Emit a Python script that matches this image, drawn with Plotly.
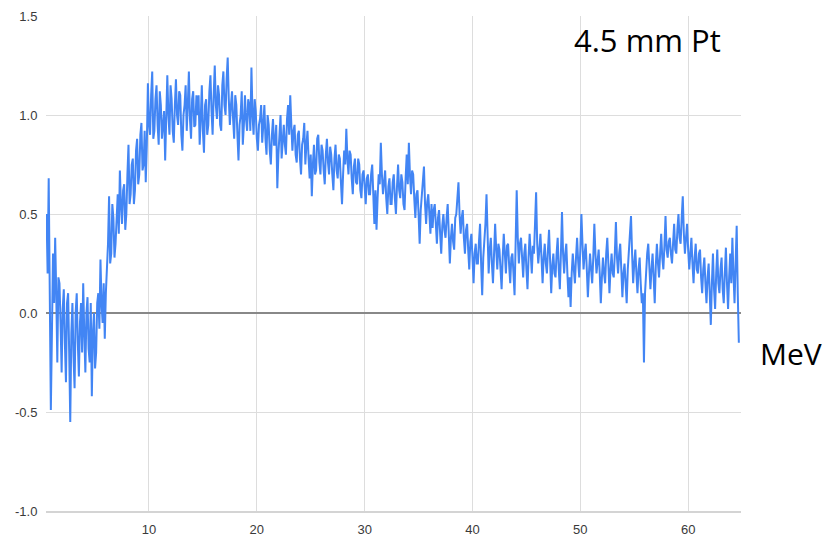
import numpy as np
import plotly.graph_objects as go

# Energy grid (MeV) of the sampled spectrum
E_START = 0.5
E_STEP = 0.1

# Signal values, one row per 2 MeV
signal = [
    0.50, 0.20, 0.68, 0.10, -0.49, -0.10, 0.30, 0.05, 0.38, 0.10, -0.25, 0.18, 0.15, -0.05, -0.30, 0.02, 0.12, -0.15, -0.35, 0.05,
    0.10, -0.20, -0.55, -0.10, 0.05, -0.22, -0.38, 0.00, 0.10, -0.15, -0.32, -0.05, 0.05, -0.20, 0.15, -0.10, -0.30, 0.00, 0.08, -0.18,
    -0.25, 0.05, -0.42, -0.10, 0.00, -0.28, -0.20, 0.05, 0.10, -0.08, 0.27, 0.05, -0.05, 0.15, -0.13, 0.10, 0.20, 0.35, 0.59, 0.25,
    0.30, 0.55, 0.48, 0.28, 0.35, 0.52, 0.60, 0.40, 0.72, 0.55, 0.45, 0.62, 0.65, 0.42, 0.50, 0.70, 0.85, 0.55, 0.60, 0.75,
    0.78, 0.55, 0.62, 0.82, 0.88, 0.65, 0.70, 0.90, 0.96, 0.72, 0.75, 0.92, 0.66, 0.85, 1.16, 0.95, 0.90, 1.10, 1.22, 0.88,
    0.92, 1.08, 1.15, 0.95, 0.85, 1.12, 1.05, 0.88, 0.95, 1.02, 0.77, 0.98, 1.20, 1.00, 0.90, 1.15, 1.08, 0.92, 0.86, 1.05,
    1.18, 1.00, 0.95, 1.12, 1.10, 0.90, 0.82, 1.00, 1.05, 1.15, 0.92, 1.05, 1.22, 0.98, 0.88, 1.08, 1.12, 0.94, 0.95, 1.10,
    1.00, 1.10, 0.85, 0.98, 1.15, 0.92, 0.81, 1.05, 1.08, 0.90, 0.95, 1.12, 1.20, 1.02, 0.90, 1.10, 1.25, 1.05, 0.98, 1.15,
    1.10, 0.95, 0.92, 1.15, 1.22, 1.05, 1.00, 1.18, 1.29, 1.08, 0.95, 1.05, 1.12, 0.98, 0.88, 1.10, 1.05, 0.90, 0.77, 0.95,
    1.00, 1.12, 0.85, 0.95, 1.10, 0.98, 0.92, 1.08, 1.05, 0.92, 1.24, 1.00, 0.90, 1.08, 1.02, 0.88, 0.82, 0.95, 0.98, 1.05,
    0.86, 0.95, 1.05, 0.88, 0.80, 1.00, 0.95, 0.82, 0.75, 0.90, 0.98, 0.85, 0.85, 0.95, 0.63, 0.80, 0.92, 1.00, 0.78, 0.90,
    0.95, 0.85, 0.80, 0.98, 1.05, 0.90, 1.10, 0.95, 0.82, 0.92, 0.95, 0.80, 0.76, 0.90, 0.92, 0.78, 0.70, 0.85, 0.88, 0.96,
    0.75, 0.85, 0.92, 0.78, 0.68, 0.80, 0.59, 0.75, 0.85, 0.70, 0.72, 0.88, 0.90, 0.76, 0.70, 0.85, 0.82, 0.72, 0.65, 0.80,
    0.88, 0.76, 0.70, 0.84, 0.80, 0.70, 0.62, 0.78, 0.85, 0.72, 0.68, 0.80, 0.78, 0.66, 0.55, 0.70, 0.82, 0.75, 0.93, 0.78,
    0.70, 0.82, 0.80, 0.68, 0.60, 0.74, 0.78, 0.66, 0.65, 0.78, 0.75, 0.62, 0.58, 0.70, 0.72, 0.64, 0.55, 0.68, 0.70, 0.60,
    0.60, 0.70, 0.75, 0.60, 0.45, 0.62, 0.42, 0.58, 0.70, 0.65, 0.86, 0.70, 0.60, 0.66, 0.72, 0.58, 0.50, 0.64, 0.68, 0.55,
    0.55, 0.66, 0.70, 0.58, 0.50, 0.64, 0.75, 0.62, 0.58, 0.70, 0.66, 0.55, 0.52, 0.68, 0.80, 0.65, 0.86, 0.70, 0.60, 0.72,
    0.70, 0.58, 0.48, 0.60, 0.62, 0.50, 0.35, 0.52, 0.58, 0.66, 0.74, 0.55, 0.45, 0.56, 0.60, 0.50, 0.40, 0.55, 0.43, 0.52,
    0.55, 0.45, 0.35, 0.48, 0.52, 0.40, 0.30, 0.44, 0.50, 0.42, 0.38, 0.48, 0.55, 0.40, 0.25, 0.38, 0.45, 0.36, 0.32, 0.48,
    0.50, 0.58, 0.66, 0.50, 0.40, 0.48, 0.52, 0.38, 0.30, 0.42, 0.45, 0.32, 0.22, 0.36, 0.40, 0.28, 0.15, 0.30, 0.35, 0.25,
    0.25, 0.36, 0.45, 0.25, 0.09, 0.28, 0.35, 0.45, 0.60, 0.35, 0.20, 0.32, 0.38, 0.25, 0.15, 0.30, 0.45, 0.32, 0.22, 0.35,
    0.32, 0.22, 0.12, 0.28, 0.40, 0.30, 0.20, 0.34, 0.35, 0.24, 0.15, 0.28, 0.30, 0.20, 0.09, 0.35, 0.62, 0.38, 0.25, 0.35,
    0.38, 0.28, 0.18, 0.30, 0.35, 0.22, 0.12, 0.28, 0.40, 0.30, 0.20, 0.34, 0.30, 0.45, 0.61, 0.35, 0.25, 0.32, 0.40, 0.28,
    0.15, 0.28, 0.35, 0.25, 0.20, 0.32, 0.42, 0.26, 0.10, 0.24, 0.30, 0.20, 0.18, 0.30, 0.38, 0.22, 0.12, 0.30, 0.51, 0.30,
    0.20, 0.30, 0.35, 0.20, 0.08, 0.18, 0.03, 0.20, 0.30, 0.22, 0.15, 0.28, 0.38, 0.26, 0.18, 0.32, 0.50, 0.35, 0.22, 0.30,
    0.35, 0.22, 0.08, 0.20, 0.30, 0.22, 0.15, 0.28, 0.45, 0.30, 0.20, 0.26, 0.32, 0.20, 0.05, 0.18, 0.28, 0.20, 0.15, 0.30,
    0.38, 0.25, 0.10, 0.22, 0.30, 0.20, 0.18, 0.30, 0.46, 0.28, 0.20, 0.30, 0.35, 0.22, 0.08, 0.20, 0.25, 0.15, 0.05, 0.22,
    0.30, 0.38, 0.49, 0.30, 0.15, 0.25, 0.32, 0.20, 0.10, 0.22, 0.28, 0.15, 0.05, 0.10, -0.25, 0.10, 0.22, 0.30, 0.35, 0.20,
    0.12, 0.22, 0.30, 0.18, 0.05, 0.24, 0.35, 0.25, 0.18, 0.30, 0.40, 0.28, 0.22, 0.34, 0.49, 0.32, 0.28, 0.36, 0.38, 0.30,
    0.25, 0.35, 0.45, 0.32, 0.30, 0.42, 0.50, 0.38, 0.35, 0.48, 0.59, 0.40, 0.30, 0.38, 0.45, 0.32, 0.22, 0.30, 0.38, 0.25,
    0.15, 0.28, 0.35, 0.22, 0.20, 0.30, 0.32, 0.18, 0.10, 0.22, 0.28, 0.15, 0.05, 0.18, 0.25, 0.10, -0.06, 0.15, 0.30, 0.12,
    0.02, 0.20, 0.32, 0.15, 0.10, 0.22, 0.28, 0.12, 0.05, 0.20, 0.33, 0.15, 0.02, 0.18, 0.30, 0.15, 0.38, 0.20, 0.05, 0.25,
    0.44, 0.10, -0.15,
]
energy = np.round(E_START + E_STEP * np.arange(len(signal)), 2)

x_ticks = [10, 20, 30, 40, 50, 60]
x_tick_text = ["10", "20", "30", "40", "50", "60"]
y_ticks = [-1.0, -0.5, 0.0, 0.5, 1.0, 1.5]
y_tick_text = ["-1.0", "-0.5", "0.0", "0.5", "1.0", "1.5"]

label_text = "4.5 mm Pt"
unit_text = "MeV"

fig = go.Figure()
fig.add_trace(go.Scatter(
    x=energy, y=signal, mode="lines",
    line=dict(color="#4285F4", width=2.0),
    hoverinfo="skip", showlegend=False,
))

tick_font = dict(family="Liberation Sans, Arial, sans-serif", size=13, color="#3a3a3a")

fig.update_layout(
    width=828, height=532,
    margin=dict(l=38, r=95, t=8, b=29, autoexpand=False),
    paper_bgcolor="white", plot_bgcolor="white",
    xaxis=dict(
        automargin=False,
        range=[0.45, 64.9],
        tickvals=x_ticks, ticktext=x_tick_text,
        showgrid=True, gridcolor="#dddddd", gridwidth=1,
        zeroline=False,
        showline=True, linecolor="#d4d4d4", linewidth=2,
        ticks="outside", ticklen=5, tickcolor="rgba(0,0,0,0)",
        tickfont=tick_font,
    ),
    yaxis=dict(
        automargin=False,
        range=[-1.0, 1.5],
        tickvals=y_ticks, ticktext=y_tick_text,
        showgrid=True, gridcolor="#dddddd", gridwidth=1,
        zeroline=True, zerolinecolor="#888888", zerolinewidth=1.5,
        showline=False,
        ticks="outside", ticklen=5, tickcolor="rgba(0,0,0,0)",
        tickfont=tick_font,
    ),
    annotations=[
        dict(x=0.866, y=0.951, xref="paper", yref="paper", text=label_text,
             showarrow=False, xanchor="center", yanchor="middle",
             font=dict(family="Open Sans, sans-serif", size=31, color="black")),
        dict(x=1.072, y=0.318, xref="paper", yref="paper", text=unit_text,
             showarrow=False, xanchor="center", yanchor="middle",
             font=dict(family="Open Sans, sans-serif", size=30, color="black")),
    ],
)

fig.write_html("out.html", config={"displayModeBar": False})
